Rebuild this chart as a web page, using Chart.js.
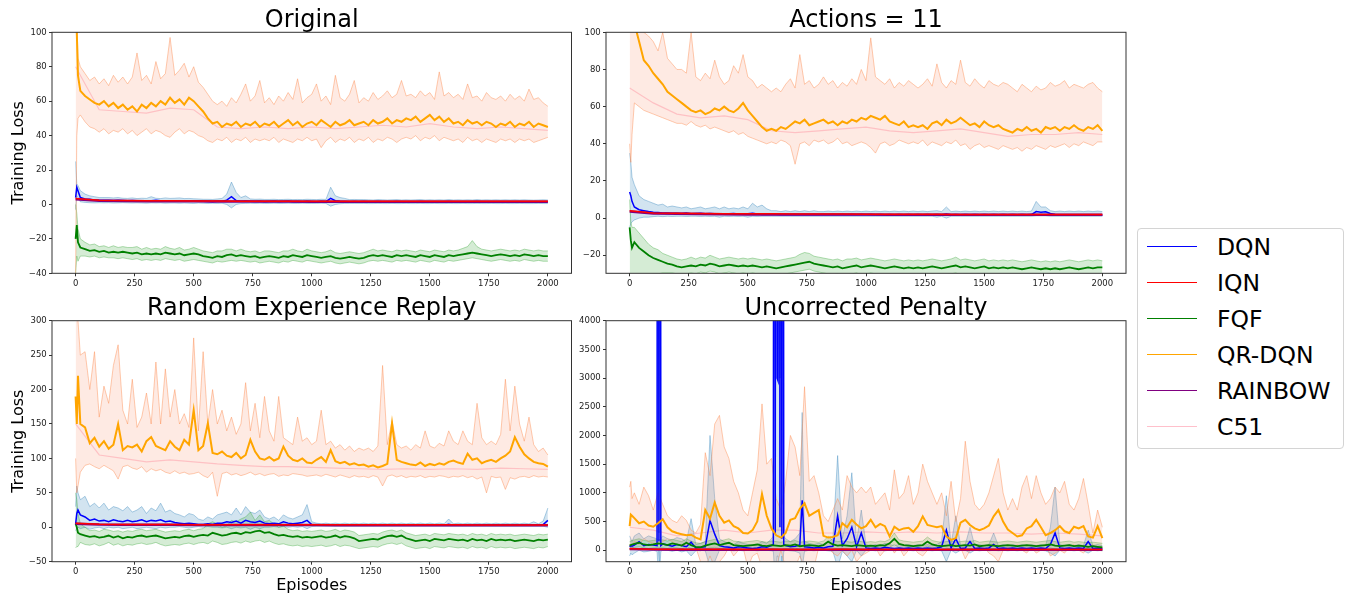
<!DOCTYPE html>
<html>
<head>
<meta charset="utf-8">
<script src="https://cdn.jsdelivr.net/npm/chart.js@4.4.1/dist/chart.umd.min.js"></script>
<style>
  body { margin: 0; background: #fff; width: 1346px; height: 594px; overflow: hidden; position: relative;
         font-family: "DejaVu Sans", sans-serif; }
  canvas { position: absolute; }
  #legend { position: absolute; left: 1137px; top: 228px; width: 207px; height: 221px; box-sizing: border-box;
            border: 1px solid #d4d4d4; border-radius: 4px; background: #fff; }
  .item { position: absolute; left: 0; width: 100%; height: 36px; }
  .sw { position: absolute; left: 9px; top: 17px; width: 50px; height: 0; border-top: 1.5px solid; }
  .lbl { position: absolute; left: 79px; top: 0; line-height: 36px; font-size: 23.5px; color: #000; white-space: nowrap; }
</style>
</head>
<body>
<canvas id="p1" width="576" height="296" style="left:0;top:0"></canvas>
<canvas id="p2" width="560" height="296" style="left:576px;top:0"></canvas>
<canvas id="p3" width="576" height="298" style="left:0;top:296px"></canvas>
<canvas id="p4" width="560" height="298" style="left:576px;top:296px"></canvas>
<div id="legend"></div>
<script>
// ---- episodes (x) ----
const EP = [0, 5, 10,
  20, 40, 60, 80, 100, 120, 140, 160, 180, 200,
  220, 240, 260, 280, 300, 320, 340, 360, 380, 400,
  420, 440, 460, 480, 500, 520, 540, 560, 580, 600,
  620, 640, 660, 680, 700, 720, 740, 760, 780, 800,
  820, 840, 860, 880, 900, 920, 940, 960, 980, 1000,
  1020, 1040, 1060, 1080, 1100, 1120, 1140, 1160, 1180, 1200,
  1220, 1240, 1260, 1280, 1300, 1320, 1340, 1360, 1380, 1400,
  1420, 1440, 1460, 1480, 1500, 1520, 1540, 1560, 1580, 1600,
  1620, 1640, 1660, 1680, 1700, 1720, 1740, 1760, 1780, 1800,
  1820, 1840, 1860, 1880, 1900, 1920, 1940, 1960, 1980, 2000];
const EP_S = [0, 100, 200, 300, 400, 500, 600, 700, 800, 900, 1000,
  1100, 1200, 1300, 1400, 1500, 1600, 1700, 1800, 1900, 2000];

const X_TICKS = [0, 250, 500, 750, 1000, 1250, 1500, 1750, 2000];
const Y_TICKS_1 = [-40, -20, 0, 20, 40, 60, 80, 100];
const Y_TICKS_2 = [-20, 0, 20, 40, 60, 80, 100];
const Y_TICKS_3 = [-50, 0, 50, 100, 150, 200, 250, 300];
const Y_TICKS_4 = [0, 500, 1000, 1500, 2000, 2500, 3000, 3500, 4000];

const TITLES = ["Original", "Actions = 11", "Random Experience Replay", "Uncorrected Penalty"];
const SERIES = ["DQN", "IQN", "FQF", "QR-DQN", "RAINBOW", "C51"];
const COLORS = ["#0000ff", "#ff0000", "#008000", "#ffa500", "#800080", "#ffc0cb"];

// ---- Panel 1: Original ----
const QR1 = [120, 100, 75,
  66, 63, 61, 59, 58, 60, 57, 59, 56, 58,
  55, 57, 54, 58, 56, 59, 57, 60, 58, 62,
  59, 61, 58, 62, 60, 57, 54, 50, 47, 48,
  45, 47, 46, 48, 45, 47, 46, 48, 45, 47,
  46, 48, 45, 47, 49, 46, 48, 45, 47, 48,
  46, 49, 47, 45, 48, 46, 47, 49, 46, 47,
  48, 46, 49, 47, 48, 50, 47, 49, 48, 50,
  49, 51, 48, 50, 52, 49, 51, 48, 50, 47,
  48, 46, 49, 47, 48, 46, 48, 47, 45, 47,
  46, 48, 45, 47, 46, 48, 45, 47, 46, 45];
const QR1_HI = [130, 110, 85,
  80, 76, 72, 74, 70, 73, 69, 75, 71, 74,
  70, 74, 88, 72, 75, 70, 83, 73, 76, 97,
  75, 78, 82, 74, 80, 71, 68, 64, 60, 58,
  60, 57, 62, 59, 64, 70, 60, 63, 72, 59,
  62, 58, 63, 60, 65, 61, 73, 59, 62, 64,
  70, 60, 63, 58, 75, 62, 60, 64, 72, 59,
  62, 60, 65, 61, 63, 66, 62, 64, 72, 63,
  64, 62, 66, 63, 65, 61, 77, 63, 65, 62,
  64, 61, 70, 62, 63, 60, 65, 62, 61, 63,
  60, 64, 61, 63, 60, 67, 61, 62, 59, 57];
const QR1_LO = [-40, 40, 50,
  52, 48, 45, 44, 42, 44, 41, 43, 42, 44,
  41, 43, 40, 42, 44, 41, 43, 42, 40, 39,
  42, 44, 41, 43, 42, 40, 39, 37, 36, 38,
  37, 39, 36, 38, 37, 39, 36, 38, 37, 38,
  37, 39, 36, 38, 37, 36, 38, 37, 39, 37,
  38, 33, 37, 39, 36, 38, 37, 39, 36, 38,
  37, 39, 36, 38, 37, 39, 38, 36, 38, 39,
  38, 40, 37, 39, 38, 40, 37, 39, 38, 37,
  38, 36, 39, 37, 38, 36, 38, 37, 36, 38,
  37, 38, 36, 38, 37, 38, 36, 37, 38, 39];
const DQN1 = [4, 10, 8,
  4, 3.2, 3, 2.6, 2.5, 2.4, 2.5, 2.3, 2.4, 2.3,
  2.2, 2.3, 2.1, 2.2, 2.0, 2.2, 2.4, 2.1, 2.2, 2.0,
  2.1, 1.9, 2.2, 2.0, 1.8, 2.0, 1.8, 1.7, 1.6, 1.8,
  1.9, 2.5, 4.5, 2.2, 1.8, 2.0, 1.9, 1.7, 1.8, 1.6,
  1.7, 1.8, 1.6, 1.7, 1.8, 1.6, 1.7, 1.6, 1.8, 1.7,
  1.6, 1.8, 1.7, 3.5, 2.2, 1.8, 1.7, 1.6, 1.7, 1.6,
  1.7, 1.6, 1.5, 1.7, 1.6, 1.5, 1.6, 1.7, 1.5, 1.6,
  1.5, 1.6, 1.7, 1.5, 1.6, 1.5, 1.6, 1.5, 1.7, 1.5,
  1.6, 1.5, 1.6, 1.5, 1.7, 1.5, 1.6, 1.5, 1.6, 1.5,
  1.6, 1.5, 1.6, 1.5, 1.6, 1.5, 1.4, 1.5, 1.6, 1.5];
const DQN1_HI = [25, 12, 11,
  8, 6, 5, 4.5, 4, 4, 4, 3.8, 4, 3.6,
  3.5, 3.8, 3.4, 3.6, 3.5, 4.5, 3.6, 3.4, 3.8, 3.5,
  3.6, 3.8, 3.4, 3.5, 3.3, 3.2, 3.0, 3.0, 2.9, 3.2,
  3.5, 6, 13, 7, 4, 5, 3.2, 3.0, 3.1, 2.9,
  2.9, 3.0, 2.8, 2.9, 3.0, 2.8, 2.9, 2.8, 3.0, 2.9,
  2.8, 3.0, 2.9, 10, 5, 4, 3.5, 2.8, 2.9, 2.8,
  2.8, 2.7, 2.6, 2.8, 2.7, 2.6, 2.7, 2.8, 2.6, 2.7,
  2.6, 2.7, 2.8, 2.6, 2.7, 2.6, 2.7, 2.6, 2.8, 2.6,
  2.7, 2.6, 2.7, 2.6, 2.8, 2.6, 2.7, 2.6, 2.7, 2.6,
  2.7, 2.6, 2.7, 2.6, 2.7, 2.6, 2.5, 2.6, 2.7, 2.6];
const DQN1_LO = [-3, 5, 4,
  1.5, 1.2, 1.0, 0.9, 1.0, 0.9, 1.0, 0.8, 0.9, 1.0,
  0.9, 0.8, 0.9, 0.8, 0.7, 0.9, 0.8, 0.9, 0.7, 0.8,
  0.8, 0.7, 0.8, 0.7, 0.6, 0.8, 0.7, 0.6, 0.7, 0.6,
  0.7, 0, -2, 0, 0.5, 0.6, 0.7, 0.6, 0.7, 0.6,
  0.6, 0.7, 0.6, 0.6, 0.7, 0.6, 0.6, 0.7, 0.6, 0.6,
  0.6, 0.7, 0.6, -1, 0, 0.4, 0.6, 0.6, 0.6, 0.6,
  0.6, 0.5, 0.5, 0.6, 0.5, 0.5, 0.6, 0.5, 0.5, 0.6,
  0.5, 0.5, 0.6, 0.5, 0.5, 0.6, 0.5, 0.5, 0.6, 0.5,
  0.5, 0.6, 0.5, 0.5, 0.6, 0.5, 0.5, 0.6, 0.5, 0.5,
  0.6, 0.5, 0.5, 0.6, 0.5, 0.5, 0.5, 0.6, 0.5, 0.5];
const FQF1 = [-20, -12, -22,
  -25, -26, -27, -26.5, -27.5, -27, -28, -27.5, -28, -27.5,
  -28, -28.5, -28, -29, -28.5, -29, -28.5, -29, -28, -28.5,
  -29, -28.5, -29.5, -29, -28.5, -29, -30, -30.5, -31, -30,
  -30.5, -29.5, -29, -30, -29.5, -30, -30.5, -30, -31, -30.5,
  -30, -30.5, -31, -30, -30.5, -29.5, -30, -30.5, -29.5, -30,
  -30.5, -31, -30.5, -30, -31, -31.5, -31, -30.5, -31, -31.5,
  -31, -30, -29.5, -30, -29.5, -30, -30.5, -29.5, -30, -29.5,
  -30, -30.5, -29.5, -30, -30.5, -29.5, -30, -30.5, -29.5, -30,
  -29.5, -29, -28.5, -28, -28.5, -29, -29.5, -30, -29.5, -29,
  -29.5, -30, -29.5, -30, -29, -29.5, -30, -29.5, -30, -30];
const FQF1_HI = [0, -5, -14,
  -20, -22, -23.5, -23, -24.5, -24, -25, -24, -25, -24.5,
  -25, -25, -24.5, -26, -25, -26, -25.5, -26, -24.5, -25.5,
  -26, -25, -26.5, -26, -25, -26, -27, -27.5, -28, -27,
  -27, -26, -26, -27, -26, -27, -27.5, -27, -28, -27,
  -27, -27.5, -28, -27, -27, -26, -27, -27.5, -26, -27,
  -27.5, -28, -27.5, -26.5, -28, -28.5, -28, -27.5, -28, -28.5,
  -28, -27, -26, -27, -26.5, -27, -27.5, -26.5, -27, -26.5,
  -27, -27.5, -26.5, -27, -27.5, -26.5, -27, -27.5, -26.5, -27,
  -26.5, -25.5, -24.5, -21, -24.5, -26, -26.5, -27, -26.5, -26,
  -26.5, -27, -26.5, -27, -26, -26.5, -27, -26.5, -27, -27];
const FQF1_LO = [-40, -30, -33,
  -30, -30, -30.5, -30, -31, -30.5, -31, -31, -31.5, -31,
  -31.5, -32, -31.5, -32.5, -32, -32.5, -32, -32.5, -31.5, -32,
  -32.5, -32, -33, -32.5, -32, -32.5, -33, -33.5, -34, -33,
  -33.5, -33, -32.5, -33, -32.5, -33, -33.5, -33, -34, -33.5,
  -33, -33.5, -34, -33, -33.5, -32.5, -33, -33.5, -32.5, -33,
  -33.5, -34, -33.5, -33, -34, -34.5, -34, -33.5, -34, -34.5,
  -34, -33, -32.5, -33, -32.5, -33, -33.5, -32.5, -33, -32.5,
  -33, -33.5, -32.5, -33, -33.5, -32.5, -33, -33.5, -32.5, -33,
  -32.5, -32, -31.5, -31, -31.5, -32, -32.5, -33, -32.5, -32,
  -32.5, -33, -32.5, -33, -32, -32.5, -33, -32.5, -33, -33];
const IQN1 = [3.5, 2.5, 2.3, 2.2, 2.1, 2.0, 2.0, 1.9, 1.9, 1.9, 1.8, 1.8, 1.8, 1.8, 1.8, 1.8, 1.8, 1.8, 1.8, 1.8, 1.8];
const RAINBOW1 = [3, 2.2, 2.0, 1.9, 1.8, 1.8, 1.7, 1.7, 1.7, 1.7, 1.6, 1.6, 1.6, 1.6, 1.6, 1.6, 1.6, 1.6, 1.6, 1.6, 1.6];
const C51_1 = [80, 55, 54, 53, 56, 55, 45, 44, 45, 44, 45, 44, 45, 46, 45, 47, 45, 44, 45, 44, 43];

// ---- Panel 2: Actions = 11 ----
const QR2 = [120, 115, 110,
  105, 95, 85, 82, 78, 75, 72, 68, 66, 64,
  62, 60, 58, 57, 58, 56, 57, 59, 58, 60,
  58, 57, 59, 62, 58, 55, 52, 49, 47, 48,
  47, 49, 48, 50, 52, 51, 53, 50, 51, 52,
  53, 51, 52, 50, 52, 51, 53, 52, 54, 53,
  55, 54, 53, 55, 52, 51, 50, 52, 49, 50,
  49, 50, 48, 51, 52, 50, 53, 51, 52, 54,
  52, 50, 51, 49, 52, 50, 49, 50, 48, 47,
  46, 48, 47, 49, 47, 48, 46, 49, 48, 49,
  47, 49, 48, 50, 48, 47, 49, 48, 50, 47];
const QR2_HI = [130, 130, 125,
  115, 108, 100, 98, 95, 90, 100, 86, 83, 80,
  80, 78, 100, 76, 74, 78, 75, 85, 76, 72,
  74, 82, 78, 88, 76, 74, 70, 72, 70, 68,
  70, 68, 72, 75, 70, 88, 72, 74, 70, 72,
  76, 72, 74, 70, 73, 71, 75, 72, 80, 74,
  97, 76, 74, 72, 75, 70, 73, 71, 74, 72,
  70, 72, 75, 71, 83, 73, 70, 74, 72, 85,
  73, 71, 75, 72, 70, 74, 72, 71, 73, 72,
  70, 68, 72, 70, 68, 71, 69, 70, 73, 71,
  72, 74, 70, 72, 71, 70, 72, 73, 70, 68];
const QR2_LO = [40, 30, 45,
  62, 60, 58, 57, 56, 55, 54, 53, 52, 51,
  51, 50, 52, 50, 49, 50, 48, 49, 48, 47,
  46, 47, 45, 46, 44, 43, 42, 41, 40, 41,
  40, 42, 41, 39, 29, 40, 41, 39, 42, 41,
  42, 40, 41, 43, 40, 41, 39, 40, 41, 40,
  38, 35, 40, 41, 39, 40, 42, 41, 40, 41,
  40, 42, 39, 41, 40, 39, 41, 40, 42, 39,
  40, 37, 39, 40, 38, 39, 38, 37, 39, 38,
  37, 38, 36, 38, 37, 39, 38, 37, 39, 38,
  39, 40, 38, 40, 39, 41, 40, 39, 41, 41];
const DQN2 = [14, 12, 9,
  6, 4.5, 4, 3.5, 3.2, 3, 2.8, 2.8, 2.6, 2.6,
  2.5, 2.7, 2.4, 2.5, 2.6, 2.3, 2.5, 2.4, 2.3, 2.4,
  2.3, 2.5, 2.2, 2.4, 2.3, 2.6, 2.2, 2.0, 2.1, 1.9,
  2.0, 1.8, 1.9, 1.8, 2.0, 1.8, 1.9, 1.8, 1.9, 1.8,
  1.9, 1.8, 1.9, 1.8, 1.9, 1.8, 1.9, 1.8, 1.9, 1.8,
  1.9, 1.8, 1.9, 1.8, 1.9, 1.8, 1.9, 1.8, 1.9, 1.8,
  1.9, 1.8, 1.9, 1.8, 2.0, 1.8, 2.2, 1.8, 1.9, 1.8,
  1.9, 1.8, 1.9, 1.8, 1.9, 1.8, 1.9, 1.8, 1.9, 1.8,
  1.9, 1.8, 1.9, 1.8, 1.9, 3.5, 3.2, 3.4, 2.5, 2.0,
  1.8, 1.7, 1.8, 1.7, 1.6, 1.7, 1.6, 1.7, 1.6, 1.5];
const DQN2_HI = [35, 30, 22,
  18, 12, 10, 9, 8, 7, 7.5, 6, 6.5, 6,
  5.5, 6, 5, 5.5, 6, 5, 5.5, 6, 5, 6,
  5, 5.5, 5, 6, 5, 8, 6, 7, 5, 4,
  4, 3.5, 4, 3.5, 4, 3.5, 4, 3.5, 4, 3.5,
  3.5, 3.8, 3.5, 3.8, 3.5, 3.8, 3.5, 3.8, 3.5, 3.8,
  3.5, 3.8, 3.5, 3.8, 3.5, 3.8, 3.5, 3.8, 3.5, 3.8,
  3.5, 3.8, 3.5, 3.8, 4, 3.5, 6, 3.5, 3.8, 3.5,
  3.8, 3.5, 3.8, 3.5, 3.8, 3.5, 3.8, 3.5, 3.8, 3.5,
  3.8, 3.5, 3.8, 3.5, 3.8, 9, 6, 6, 4, 3.5,
  3.8, 3.5, 3.8, 3.5, 3.8, 3.5, 3.8, 3.5, 3.8, 3.5];
const DQN2_LO = [-5, -3, -2,
  -1, 0, 0.5, 0.5, 0.8, 1, 0.8, 1, 0.9, 1,
  1, 0.9, 1, 1, 0.9, 1, 0.9, 1, 0.5, 1,
  0.9, 1, 0.9, 1, 0.5, 1, 0.9, 1, 1, 1,
  1, 1, 1, 1, 1, 1, 1, 1, 1, 1,
  1, 1, 1, 1, 1, 1, 1, 1, 1, 1,
  1, 1, 1, 1, 1, 1, 1, 1, 1, 1,
  1, 1, 1, 1, 0.5, 1, 0, 1, 1, 1,
  1, 1, 1, 1, 1, 1, 1, 1, 1, 1,
  1, 1, 1, 1, 1, 1.2, 1.2, 1.2, 1, 1,
  1, 1, 1, 1, 1, 1, 1, 1, 1, 1];
const FQF2 = [-5, -12, -16,
  -13, -16, -18, -20, -21.5, -22.5, -23.5, -24.5, -25, -26,
  -26.5, -26, -25.5, -26, -25, -25.5, -24.5, -25, -26, -25.5,
  -25, -25.5, -26, -25.5, -26, -25.5, -26, -26.5, -26, -26.5,
  -27, -26.5, -26, -25.5, -25, -24.5, -24, -23.5, -24.5, -25,
  -25.5, -26, -26.5, -26, -27, -26.5, -26, -25.5, -26.5, -26,
  -25.5, -26, -26.5, -27, -26.5, -26, -26.5, -27, -26.5, -27,
  -26.5, -27, -26.5, -26, -26.5, -27, -26.5, -26, -25.5, -26.5,
  -26, -26.5, -27, -26.5, -26, -27, -26.5, -27, -26.5, -27,
  -26.5, -27, -27.5, -27, -26.5, -27, -27.5, -27, -27.5, -27,
  -27.5, -27, -26.5, -27, -27.5, -27, -26.5, -27, -26.5, -26.5];
const FQF2_HI = [10, -2, -5,
  -5, -8, -11, -14, -16, -17, -19, -20, -21, -22,
  -22.5, -22, -21, -22, -21, -21.5, -20, -21, -22, -21.5,
  -21, -21.5, -22, -21.5, -22, -21.5, -22, -22.5, -22, -22.5,
  -23, -22.5, -22, -21.5, -21, -19.5, -18.5, -19, -20.5, -21,
  -21.5, -22, -22.5, -22, -23, -22, -22, -21.5, -22.5, -22,
  -21.5, -22, -22.5, -23, -22.5, -22, -22.5, -23, -22.5, -23,
  -22.5, -23, -22.5, -22, -22.5, -23, -22.5, -22, -21, -22.5,
  -22, -22.5, -23, -22.5, -22, -23, -22.5, -23, -22.5, -23,
  -22.5, -23, -23.5, -23, -22.5, -23, -23.5, -23, -23.5, -23,
  -23.5, -23, -22.5, -23, -23.5, -23, -22.5, -23, -22.5, -23];
const FQF2_LO = [-32, -32, -32,
  -32, -32, -31, -30.5, -30, -30, -29.5, -29.5, -29.5, -30,
  -30, -30, -29.5, -30, -29, -29.5, -28.5, -29, -30, -29.5,
  -29, -29.5, -30, -29.5, -30, -29.5, -30, -30.5, -30, -30.5,
  -31, -30.5, -30, -29.5, -29, -28.5, -28, -27.5, -28.5, -29,
  -29.5, -30, -30.5, -30, -31, -30.5, -30, -29.5, -30.5, -30,
  -29.5, -30, -30.5, -31, -30.5, -30, -30.5, -31, -30.5, -31,
  -30.5, -31, -30.5, -30, -30.5, -31, -30.5, -30, -29.5, -30.5,
  -30, -30.5, -31, -30.5, -30, -31, -30.5, -31, -30.5, -31,
  -30.5, -31, -31.5, -31, -30.5, -31, -31.5, -31, -31.5, -31,
  -31.5, -31, -30.5, -31, -31.5, -31, -30.5, -31, -30.5, -30.5];
const IQN2 = [4, 2.8, 2.6, 2.5, 2.4, 2.3, 2.3, 2.2, 2.2, 2.2, 2.1, 2.1, 2.1, 2.1, 2.0, 2.0, 2.0, 2.0, 2.0, 2.0, 2.0];
const RAINBOW2 = [3.5, 2.5, 2.3, 2.2, 2.1, 2.0, 2.0, 1.9, 1.9, 1.9, 1.9, 1.8, 1.8, 1.8, 1.8, 1.8, 1.8, 1.8, 1.8, 1.8, 1.8];
const C51_2 = [70, 62, 56, 54, 55, 53, 47, 46, 47, 48, 49, 47, 46, 47, 48, 46, 44, 45, 45, 46, 45];

// ---- Panel 3: Random Experience Replay ----
const QR3 = [190, 150, 220,
  150, 145, 122, 130, 117, 125, 114, 120, 150, 112,
  118, 116, 120, 110, 125, 131, 118, 115, 112, 125,
  117, 112, 127, 120, 170, 112, 118, 151, 108, 106,
  110, 104, 102, 108, 100, 105, 127, 110, 100, 98,
  102, 97, 100, 117, 104, 98, 96, 100, 94, 93,
  98, 102, 95, 112, 96, 93, 95, 91, 93, 90,
  91, 88, 90, 87, 89, 92, 151, 98, 95, 93,
  91, 90, 94, 89, 92, 90, 93, 91, 95, 97,
  94, 92, 107, 98, 100, 93, 96, 98, 95, 100,
  104, 110, 131, 117, 106, 100, 95, 93, 92, 88];
const QR3_HI = [320, 310, 300,
  250, 255, 200, 255, 160, 205, 180, 235, 265, 170,
  150, 215, 145, 160, 195, 150, 240, 150, 230, 160,
  200, 150, 165, 145, 275, 140, 255, 150, 200, 150,
  170, 140, 160, 135, 150, 210, 140, 180, 130, 190,
  140, 125, 190, 130, 125, 120, 160, 125, 130, 120,
  125, 170, 120, 125, 115, 120, 112, 118, 110, 115,
  112, 115, 110, 118, 235, 120, 155, 120, 115, 118,
  112, 120, 115, 140, 118, 115, 122, 118, 140, 125,
  120, 140, 125, 120, 180, 130, 120, 125, 120, 135,
  215, 140, 205, 150, 125, 160, 120, 110, 115, 105];
const QR3_LO = [100, 50, 60,
  80, 90, 92, 88, 85, 90, 86, 82, 70, 88,
  90, 86, 84, 88, 80, 85, 82, 84, 80, 78,
  82, 78, 80, 77, 78, 80, 75, 72, 80, 45,
  78, 80, 76, 78, 75, 77, 80, 76, 78, 75,
  77, 78, 74, 76, 75, 78, 77, 76, 74, 75,
  76, 74, 77, 75, 73, 76, 74, 72, 75, 73,
  74, 72, 75, 73, 60, 74, 76, 73, 75, 72,
  74, 73, 75, 72, 74, 73, 75, 74, 72, 74,
  73, 75, 72, 74, 70, 73, 50, 74, 72, 73,
  55, 72, 70, 73, 74, 72, 75, 73, 74, 73];
const DQN3 = [5, 20, 25,
  18, 15, 10, 12, 9, 10, 8, 11, 9, 8,
  10, 8, 9, 11, 8, 10, 9, 11, 8, 9,
  7, 6, 5, 6, 5, 4, 4, 5, 4, 6,
  6, 8, 7, 9, 6, 10, 8, 7, 9, 6,
  5, 6, 5, 8, 6, 5, 6, 7, 10, 4,
  3.5, 3, 3.5, 3, 3.5, 3, 3.5, 3, 3.5, 3,
  3.5, 3, 3.5, 3, 3.5, 3, 3.5, 3, 3.5, 3,
  3.5, 3, 3.5, 3, 3.5, 3, 3.5, 3, 4.5, 3,
  3.5, 3, 3.5, 3, 3.5, 3, 3.5, 3, 3.5, 3,
  3.5, 3, 3.5, 3, 3.5, 3, 3.5, 3, 4, 10];
const DQN3_HI = [30, 60, 50,
  40, 45, 30, 35, 28, 35, 25, 30, 28, 24,
  30, 22, 25, 30, 20, 28, 24, 35, 22, 25,
  20, 18, 15, 20, 18, 12, 10, 15, 12, 18,
  20, 22, 18, 28, 18, 30, 22, 20, 25, 15,
  12, 15, 10, 18, 14, 12, 15, 18, 33, 8,
  6, 5, 6, 5, 6, 5, 6, 5, 6, 5,
  6, 5, 6, 5, 6, 5, 6, 5, 6, 5,
  6, 5, 6, 5, 6, 5, 6, 5, 12, 5,
  6, 5, 6, 5, 6, 5, 6, 5, 6, 5,
  6, 5, 6, 5, 6, 5, 8, 5, 9, 28];
const DQN3_LO = [-5, -2, 0,
  -2, 0, -3, -1, 0, -2, 0, -1, 0, -2,
  -1, 0, -2, -1, 0, -1, -2, 0, -1, 0,
  0, 1, 0, -1, 0, 1, 0, 1, 0, 0,
  -1, 0, -2, 0, -1, 0, -3, 0, -2, 0,
  0, 1, 0, 1, 0, 1, 0, 1, -2, 1,
  1.5, 1.5, 1.5, 1.5, 1.5, 1.5, 1.5, 1.5, 1.5, 1.5,
  1.5, 1.5, 1.5, 1.5, 1.5, 1.5, 1.5, 1.5, 1.5, 1.5,
  1.5, 1.5, 1.5, 1.5, 1.5, 1.5, 1.5, 1.5, 1.5, 1.5,
  1.5, 1.5, 1.5, 1.5, 1.5, 1.5, 1.5, 1.5, 1.5, 1.5,
  1.5, 1.5, 1.5, 1.5, 1.5, 1.5, 1.5, 1.5, 1.5, 0];
const FQF3 = [5, 0, -8,
  -10, -12, -14, -13, -15, -14, -12, -15, -13, -16,
  -14, -15, -13, -12, -14, -13, -12, -14, -16, -15,
  -14, -15, -13, -12, -14, -12, -11, -12, -8, -10,
  -12, -11, -9, -8, -10, -7, -8, -6, -5, -8,
  -7, -10, -12, -11, -13, -14, -13, -15, -14, -15,
  -14, -13, -15, -14, -12, -15, -13, -14, -16, -20,
  -19, -18, -17, -18, -15, -13, -12, -14, -12, -16,
  -18, -20, -19, -18, -20, -17, -18, -19, -17, -18,
  -19, -18, -20, -17, -19, -18, -20, -17, -19, -18,
  -19, -18, -20, -19, -18, -19, -20, -18, -19, -18];
const FQF3_HI = [50, 40, 20,
  5, 0, -5, -4, -6, -3, -4, -6, -5, -7,
  -5, -6, -4, -3, -5, -4, -3, -5, -7, -6,
  -5, -6, -4, -3, -5, -3, -2, 5, 8, 5,
  0, 2, 10, 8, 12, 15, 22, 10, 18, 8,
  10, 5, 0, 2, -3, -5, -4, -6, -5, -6,
  -5, -4, -6, -5, -3, -6, -4, -5, -7, -12,
  -11, -10, -9, -10, -7, -5, -4, -6, -4, -8,
  -10, -12, -11, -10, -12, -9, -10, -11, -9, -10,
  -11, -10, -12, -9, -11, -10, -12, -9, -11, -10,
  -11, -10, -12, -11, -10, -11, -12, -10, -11, -10];
const FQF3_LO = [-30, -28, -28,
  -22, -25, -26, -24, -27, -25, -22, -26, -24, -27,
  -25, -26, -24, -23, -25, -24, -22, -25, -27, -26,
  -25, -26, -24, -23, -25, -23, -22, -24, -20, -22,
  -25, -24, -22, -21, -23, -20, -22, -20, -19, -22,
  -20, -23, -25, -24, -26, -27, -26, -28, -27, -28,
  -27, -26, -28, -27, -25, -28, -26, -27, -29, -31,
  -30, -29, -28, -29, -26, -24, -23, -25, -23, -27,
  -29, -31, -30, -29, -31, -28, -29, -30, -28, -29,
  -30, -29, -31, -28, -30, -29, -31, -28, -30, -29,
  -30, -29, -31, -30, -29, -30, -31, -29, -30, -28];
const IQN3 = [6, 4.5, 4.2, 4, 4, 3.8, 3.8, 3.7, 3.7, 3.6, 3.6, 3.5, 3.5, 3.5, 3.5, 3.5, 3.5, 3.4, 3.4, 3.4, 3.4];
const RAINBOW3 = [5, 4, 3.8, 3.6, 3.5, 3.4, 3.3, 3.3, 3.2, 3.2, 3.2, 3.1, 3.1, 3.1, 3.1, 3.0, 3.0, 3.0, 3.0, 3.0, 3.0];
const C51_3 = [150, 105, 100, 95, 98, 95, 92, 90, 88, 88, 87, 86, 85, 84, 85, 84, 85, 84, 86, 85, 84];

// ---- Panel 4: Uncorrected Penalty ----
const QR4 = [420, 620, 600,
  560, 470, 500, 430, 410, 470, 540, 400, 330, 300,
  280, 260, 270, 220, 190, 700, 550, 830, 600, 480,
  520, 420, 380, 300, 290, 350, 500, 980, 600, 380,
  260, 220, 300, 530, 560, 720, 820, 600, 650, 700,
  250, 220, 230, 260, 470, 400, 530, 450, 380, 420,
  530, 400, 460, 420, 240, 410, 350, 380, 390, 320,
  420, 590, 440, 420, 400, 420, 240, 180, 210, 480,
  530, 440, 380, 350, 380, 430, 590, 700, 500, 360,
  300, 240, 260, 380, 420, 530, 400, 260, 300, 350,
  420, 330, 300, 410, 380, 420, 240, 220, 420, 210];
const QR4_HI = [1100, 1200, 900,
  1000, 800, 1100, 950, 700, 1000, 800, 600, 520, 480,
  600, 520, 350, 300, 450, 1700, 1300, 2200, 2350, 1800,
  1600, 1200, 1000, 700, 600, 1000, 1400, 2550, 1500, 1600,
  900, 700, 1200, 2000, 1800, 1300, 2850, 1200, 1300, 1000,
  600, 500, 700, 900, 700, 1300, 1100, 1000, 1100, 1000,
  1100, 800, 900, 1000, 700, 1400, 900, 1000, 1300, 800,
  1000, 1500, 1200, 1000, 800, 1000, 600, 1200, 500, 900,
  1900, 1200, 800, 700, 800, 1000, 1300, 1600, 1000, 700,
  900, 700, 1100, 1300, 900, 1300, 1000, 800, 900, 1100,
  1000, 1200, 800, 700, 900, 1250, 800, 300, 700, 400];
const QR4_LO = [100, 0, 50,
  150, 100, 200, 150, 120, 100, 150, 200, 150, 100,
  100, 80, 120, 50, -200, -300, -100, -300, -200, -100,
  50, -100, 0, 50, -300, -100, -50, -300, -200, -300,
  -300, 0, -300, -200, -300, -100, -300, -200, -300, 50,
  0, 50, -50, -100, 0, -100, 0, -200, -100, -50,
  0, 50, -100, 0, 100, -50, 50, -100, 0, 50,
  -50, -100, 0, 50, 0, 100, 50, 0, 100, 50,
  -150, 0, 50, 0, 50, -50, -100, -200, 0, 50,
  0, 100, 0, -50, 50, -50, 0, 100, -100, -50,
  0, -50, 50, 100, 0, -50, 50, 100, 0, 50];
const FQF4 = [80, 90, 100,
  110, 130, 100, 90, 100, 120, 110, 90, 120, 100,
  80, 130, 90, 60, 50, 80, 100, 120, 90, 110,
  130, 90, 80, 70, 80, 90, 100, 80, 70, 90,
  80, 70, 90, 80, 100, 70, 80, 90, 80, 70,
  90, 150, 100, 80, 90, 80, 70, 90, 80, 70,
  80, 70, 90, 80, 120, 200, 110, 90, 80, 70,
  80, 90, 150, 100, 80, 70, 80, 90, 70, 80,
  90, 80, 100, 70, 80, 90, 80, 70, 80, 90,
  80, 70, 80, 90, 80, 70, 80, 90, 100, 80,
  70, 80, 90, 70, 80, 70, 60, 70, 60, 50];
const FQF4_HI = [150, 160, 170,
  180, 200, 170, 160, 170, 190, 180, 160, 190, 170,
  150, 200, 160, 130, 120, 150, 170, 190, 160, 180,
  200, 160, 150, 140, 150, 160, 170, 150, 140, 160,
  150, 140, 160, 150, 170, 140, 150, 160, 150, 140,
  160, 240, 170, 150, 160, 150, 140, 160, 150, 140,
  150, 140, 160, 150, 190, 300, 180, 160, 150, 140,
  150, 160, 230, 170, 150, 140, 150, 160, 140, 150,
  160, 150, 170, 140, 150, 160, 150, 140, 150, 160,
  150, 140, 150, 160, 150, 140, 150, 160, 170, 150,
  140, 150, 160, 140, 150, 140, 130, 140, 130, 120];
const FQF4_LO = [20, 30, 40,
  50, 60, 40, 30, 40, 50, 40, 30, 50, 40,
  20, 60, 30, 0, -10, 20, 40, 50, 30, 40,
  60, 30, 20, 10, 20, 30, 40, 20, 10, 30,
  20, 10, 30, 20, 40, 10, 20, 30, 20, 10,
  30, 60, 40, 20, 30, 20, 10, 30, 20, 10,
  20, 10, 30, 20, 50, 100, 40, 30, 20, 10,
  20, 30, 70, 40, 20, 10, 20, 30, 10, 20,
  30, 20, 40, 10, 20, 30, 20, 10, 20, 30,
  20, 10, 20, 30, 20, 10, 20, 30, 40, 20,
  10, 20, 30, 10, 20, 10, 0, 10, 0, -10];
// DQN in this panel blows up twice, so it gets its own, denser episode list
const DQN4_EP = [0, 5, 10, 20, 40, 60, 80, 100, 116, 120, 124, 128, 132, 140,
  160, 180, 200, 220, 240, 260, 280, 300, 320, 340, 360, 380, 400,
  420, 440, 460, 480, 500, 520, 540, 560, 580, 600,
  608, 612, 616, 620, 624, 628, 632, 636, 640, 644, 648, 652, 660,
  680, 700, 720, 730, 740, 760, 780, 800,
  820, 840, 860, 880, 900, 920, 940, 960, 980, 1000,
  1020, 1040, 1060, 1080, 1100, 1120, 1140, 1160, 1180, 1200,
  1220, 1240, 1260, 1280, 1300, 1320, 1340, 1360, 1380, 1400,
  1420, 1440, 1460, 1480, 1500, 1520, 1540, 1560, 1580, 1600,
  1620, 1640, 1660, 1680, 1700, 1720, 1740, 1760, 1780, 1800,
  1820, 1840, 1860, 1880, 1900, 1920, 1940, 1960, 1980, 2000];
const DQN4 = [60, 80, 70, 90, 150, 80, 100, 90, 80, 25000, 150, 25000, 80, 110,
  90, 70, 100, 80, 60, 140, 40, 50, 60, 520, 280, 80, 60,
  50, 40, 60, 50, 40, 30, 40, 60, 50, 80,
  100, 25000, 300, 25000, 3000, 2950, 25000, 400, 25000, 200, 25000, 100, 80,
  60, 70, 90, 870, 60, 50, 40, 50,
  40, 60, 70, 600, 80, 200, 400, 60, 300, 40,
  30, 40, 30, 50, 40, 30, 40, 30, 40, 30,
  40, 30, 40, 30, 40, 60, 350, 40, 200, 30,
  40, 150, 30, 40, 30, 40, 100, 30, 40, 30,
  40, 30, 40, 30, 40, 30, 40, 30, 100, 300,
  40, 30, 40, 30, 40, 30, 150, 30, 40, 30];
const DQN4_HI = [250, 200, 150, 250, 300, 200, 250, 220, 200, 40000, 300, 40000, 200, 250,
  200, 180, 220, 200, 150, 550, 100, 120, 150, 2000, 900, 200, 150,
  120, 100, 150, 120, 100, 90, 100, 150, 120, 200,
  250, 40000, 3000, 40000, 40000, 40000, 40000, 3000, 40000, 800, 40000, 250, 200,
  150, 200, 300, 2400, 150, 120, 100, 120,
  100, 150, 200, 1650, 200, 600, 1350, 150, 700, 100,
  80, 100, 80, 120, 100, 80, 100, 80, 100, 80,
  100, 80, 100, 80, 100, 150, 950, 100, 600, 80,
  100, 400, 80, 100, 80, 100, 300, 80, 100, 80,
  100, 80, 100, 80, 100, 80, 100, 80, 400, 1100,
  100, 80, 100, 80, 100, 80, 350, 80, 100, 80];
const DQN4_LO = [-100, -50, -80, -50, 0, -30, -20, 0, -20, -300, 0, -300, -20, 0,
  0, -20, 0, -30, -10, -100, -10, 0, -10, -300, -200, 0, 0,
  0, -10, 0, -10, 0, 0, -10, 0, 0, -10,
  -20, -300, -200, -300, -100, -100, -300, -200, -300, -100, -300, -20, 0,
  -10, -20, -50, -300, -20, 0, -10, 0,
  0, -10, -20, -300, -20, -100, -200, 0, -100, 0,
  0, -10, 0, -10, 0, -10, 0, -10, 0, -10,
  0, -10, 0, -10, 0, -10, -200, 0, -50, 0,
  0, -50, 0, -10, 0, -10, 0, -10, 0, -10,
  0, -10, 0, -10, 0, -10, 0, -10, -50, -100,
  0, -10, 0, -10, 0, -10, -50, 0, -10, 0];
const IQN4 = [25, 18, 16, 15, 15, 14, 15, 14, 14, 15, 14, 14, 13, 14, 13, 14, 13, 13, 13, 13, 13];
const RAINBOW4 = [20, 12, 10, 10, 9, 9, 9, 8, 8, 8, 8, 8, 8, 8, 8, 8, 8, 8, 8, 8, 8];
const C51_4 = [400, 350, 250, 300, 350, 300, 350, 350, 300, 300, 320, 300, 320, 300, 320, 300, 300, 280, 300, 280, 250];

// ---- drawing ----
const FONT = "'DejaVu Sans', sans-serif";
const QR_EDGE = "rgba(252,140,80,0.45)", QR_FILL = "rgba(250,150,115,0.2)";
const DQN_EDGE = "rgba(31,119,180,0.35)", DQN_FILL = "rgba(31,119,180,0.2)";
const FQF_EDGE = "rgba(44,160,44,0.35)", FQF_FILL = "rgba(44,160,44,0.2)";
const C51_LINE = "rgba(255,170,190,0.6)";

const pts = (xs, ys) => xs.map((x, i) => ({ x, y: ys[i] }));
const fmt = v => (v < 0 ? "\u2212" + Math.abs(v) : String(v));

function line(label, xs, ys, color, width, order) {
  return { label, data: pts(xs, ys), borderColor: color, borderWidth: width,
           pointRadius: 0, fill: false, order, clip: 0, xAxisID: "x", yAxisID: "y" };
}

// upper edge fills down to the lower edge, which must come right after it
function band(xs, hi, lo, edge, fillColor, order) {
  return [
    { data: pts(xs, hi), borderColor: edge, borderWidth: 1, pointRadius: 0, fill: "+1",
      backgroundColor: fillColor, order, clip: 0, xAxisID: "x", yAxisID: "y" },
    { data: pts(xs, lo), borderColor: edge, borderWidth: 1, pointRadius: 0, fill: false,
      order, clip: 0, xAxisID: "x", yAxisID: "y" }
  ];
}

// matplotlib draws a box round every axes
const frame = {
  id: "frame",
  afterDatasetsDraw(chart) {
    const { ctx, chartArea: a } = chart;
    ctx.save();
    ctx.strokeStyle = "#333";
    ctx.lineWidth = 1;
    ctx.strokeRect(a.left, a.top, a.right - a.left, a.bottom - a.top);
    ctx.restore();
  }
};

function panel(id, o) {
  const tickFont = { family: FONT, size: 8.5 };
  new Chart(document.getElementById(id), {
    type: "line",
    data: { datasets: o.datasets },
    options: {
      responsive: false,
      animation: false,
      devicePixelRatio: 1,
      events: [],
      layout: { padding: { left: 0, right: o.padRight, top: 0, bottom: 0 } },
      plugins: { legend: { display: false }, tooltip: { enabled: false } },
      scales: {
        x: {
          type: "linear", position: "bottom", min: -100, max: 2100,
          afterBuildTicks: s => { s.ticks = X_TICKS.map(v => ({ value: v })); },
          afterFit: s => { s.height = o.xH; },
          ticks: { font: tickFont, color: "#222", padding: 2.2, maxRotation: 0, autoSkip: false,
                   callback: v => fmt(v) },
          grid: { display: true, drawOnChartArea: false, drawTicks: true, tickLength: 3, color: "#333" },
          border: { display: false },
          title: { display: !!o.xTitle, text: o.xTitle || "", color: "#000",
                   font: { family: FONT, size: 16, lineHeight: 1 }, padding: { top: 0, bottom: 0 } }
        },
        xt: {
          type: "linear", axis: "x", position: "top", min: -100, max: 2100,
          afterFit: s => { s.height = o.topH; },
          ticks: { display: false },
          grid: { display: false },
          border: { display: false },
          title: { display: true, text: o.title, color: "#000",
                   font: { family: FONT, size: 24, lineHeight: 1 }, padding: { top: o.titlePad, bottom: 0 } }
        },
        y: {
          type: "linear", position: "left", min: o.yMin, max: o.yMax,
          afterBuildTicks: s => { s.ticks = o.yTicks.map(v => ({ value: v })); },
          afterFit: s => { s.width = o.yW; },
          ticks: { font: tickFont, color: "#222", padding: 2.3, callback: v => fmt(v) },
          grid: { display: true, drawOnChartArea: false, drawTicks: true, tickLength: 3, color: "#333" },
          border: { display: false },
          title: { display: !!o.yTitle, text: o.yTitle || "", color: "#000",
                   font: { family: FONT, size: 16, lineHeight: 1 }, padding: { top: 10.7, bottom: 0 } }
        }
      }
    },
    plugins: [frame]
  });
}

// lower order = drawn on top
function sets(d) {
  return [
    line("IQN", EP_S, d.iqn, COLORS[1], 1.5, 1),
    line("RAINBOW", EP_S, d.rainbow, COLORS[4], 2.5, 2),
    line("QR-DQN", EP, d.qr, COLORS[3], 2, 3),
    line("FQF", EP, d.fqf, COLORS[2], 1.8, 5),
    line("DQN", d.dqnEp, d.dqn, COLORS[0], 1.5, 6),
    ...band(EP, d.qrHi, d.qrLo, QR_EDGE, QR_FILL, 7),
    ...band(EP, d.fqfHi, d.fqfLo, FQF_EDGE, FQF_FILL, 8),
    ...band(d.dqnEp, d.dqnHi, d.dqnLo, DQN_EDGE, DQN_FILL, 9),
    line("C51", EP_S, d.c51, C51_LINE, 1.2, 10)
  ];
}

panel("p1", {
  title: TITLES[0], titlePad: 8.5, topH: 32.3, xH: 22.7, yW: 52, padRight: 4.5,
  yMin: -40, yMax: 100, yTicks: Y_TICKS_1, yTitle: "Training Loss",
  datasets: sets({ qr: QR1, qrHi: QR1_HI, qrLo: QR1_LO, dqnEp: EP, dqn: DQN1, dqnHi: DQN1_HI, dqnLo: DQN1_LO,
                   fqf: FQF1, fqfHi: FQF1_HI, fqfLo: FQF1_LO, iqn: IQN1, rainbow: RAINBOW1, c51: C51_1 })
});
panel("p2", {
  title: TITLES[1], titlePad: 8.5, topH: 32.3, xH: 22.7, yW: 30, padRight: 10,
  yMin: -29.7, yMax: 100, yTicks: Y_TICKS_2,
  datasets: sets({ qr: QR2, qrHi: QR2_HI, qrLo: QR2_LO, dqnEp: EP, dqn: DQN2, dqnHi: DQN2_HI, dqnLo: DQN2_LO,
                   fqf: FQF2, fqfHi: FQF2_HI, fqfLo: FQF2_LO, iqn: IQN2, rainbow: RAINBOW2, c51: C51_2 })
});
panel("p3", {
  title: TITLES[2], titlePad: 0.3, topH: 24.7, xH: 32.3, yW: 52, padRight: 4.5,
  yMin: -50, yMax: 300, yTicks: Y_TICKS_3, yTitle: "Training Loss", xTitle: "Episodes",
  datasets: sets({ qr: QR3, qrHi: QR3_HI, qrLo: QR3_LO, dqnEp: EP, dqn: DQN3, dqnHi: DQN3_HI, dqnLo: DQN3_LO,
                   fqf: FQF3, fqfHi: FQF3_HI, fqfLo: FQF3_LO, iqn: IQN3, rainbow: RAINBOW3, c51: C51_3 })
});
panel("p4", {
  title: TITLES[3], titlePad: 0.3, topH: 24.7, xH: 32.3, yW: 30, padRight: 10,
  yMin: -200, yMax: 4000, yTicks: Y_TICKS_4, xTitle: "Episodes",
  datasets: sets({ qr: QR4, qrHi: QR4_HI, qrLo: QR4_LO, dqnEp: DQN4_EP, dqn: DQN4, dqnHi: DQN4_HI, dqnLo: DQN4_LO,
                   fqf: FQF4, fqfHi: FQF4_HI, fqfLo: FQF4_LO, iqn: IQN4, rainbow: RAINBOW4, c51: C51_4 })
});

// shared legend on the right
const legend = document.getElementById("legend");
legend.innerHTML = SERIES.map((name, i) => `
  <div class="item" style="top:${36 * i}px">
    <div class="sw" style="border-top-color:${COLORS[i]}"></div>
    <div class="lbl">${name}</div>
  </div>`).join("");

// sanity check on the hand-typed arrays
const check = { QR1, QR1_HI, QR1_LO, DQN1, DQN1_HI, DQN1_LO, FQF1, FQF1_HI, FQF1_LO,
  QR2, QR2_HI, QR2_LO, DQN2, DQN2_HI, DQN2_LO, FQF2, FQF2_HI, FQF2_LO,
  QR3, QR3_HI, QR3_LO, DQN3, DQN3_HI, DQN3_LO, FQF3, FQF3_HI, FQF3_LO,
  QR4, QR4_HI, QR4_LO, FQF4, FQF4_HI, FQF4_LO };
const bad = Object.entries(check).filter(([, a]) => a.length !== EP.length).map(([k, a]) => k + ":" + a.length);
[["DQN4", DQN4], ["DQN4_HI", DQN4_HI], ["DQN4_LO", DQN4_LO]].forEach(([k, a]) => {
  if (a.length !== DQN4_EP.length) bad.push(k + ":" + a.length + "/" + DQN4_EP.length);
});
if (bad.length) throw new Error("length mismatch " + bad.join(", "));
</script>
</body>
</html>
